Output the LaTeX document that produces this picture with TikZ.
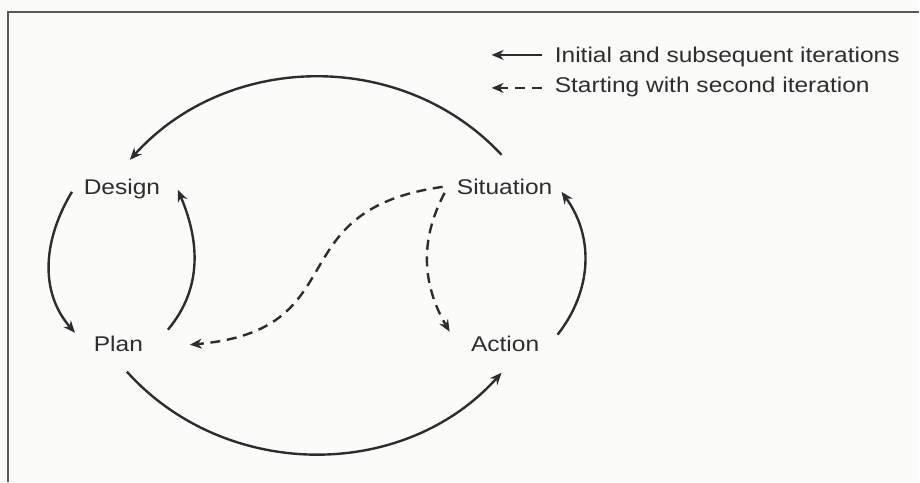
\documentclass[tikz,border=0pt]{standalone}
\usepackage{fontspec}
\setmainfont{Liberation Sans}
\usetikzlibrary{arrows.meta}
\definecolor{ink}{RGB}{45,45,45}
\definecolor{paper}{RGB}{251,252,249}
\newcommand{\wide}[1]{\scalebox{1.15}[1]{#1}}

\begin{document}
\begin{tikzpicture}[x=0.75pt, y=0.75pt,
    lbl/.style={font=\fontsize{16}{19}\selectfont, text=ink, inner sep=0pt, anchor=base},
    flow/.style={draw=ink, line width=1.8pt, -{Stealth[length=9pt,width=7.5pt]}},
    later/.style={flow, dash pattern=on 7.5pt off 5pt}]

    % Background and frame
    \fill[paper] (0,0) rectangle (920,482);
    \draw[gray!70!black, line width=1.1pt] (8,0) -- (8,470) -- (920,470);

    % Steps of the cycle
    \node[lbl] (design) at (122,287) {\wide{Design}};
    \node[lbl] (sit) at (505,287) {\wide{Situation}};
    \node[lbl] (plan) at (118.5,130) {\wide{Plan}};
    \node[lbl] (action) at (505.5,130) {\wide{Action}};

    % Initial and subsequent iterations
    \draw[flow] ([shift={(-3,40)}]sit.base) to[out=133, in=48] ([shift={(8,35)}]design.base);
    \draw[flow] ([shift={(-50,3)}]design.base) to[out=239, in=131] ([shift={(-43.5,19)}]plan.base);
    \draw[flow] ([shift={(49.5,22)}]plan.base) to[out=50, in=-67] ([shift={(56,5)}]design.base);
    \draw[flow] ([shift={(8.5,-20)}]plan.base) to[out=-48, in=228] ([shift={(-3.5,-21)}]action.base);
    \draw[flow] ([shift={(52.5,17)}]action.base) to[out=52, in=-54] ([shift={(57,3)}]sit.base);

    % Starting with second iteration
    \draw[later] ([shift={(-62,8)}]sit.base) to[out=188, in=5, looseness=1.45] ([shift={(71.5,7)}]plan.base);
    \draw[later] ([shift={(-60,2)}]sit.base) to[out=242, in=120] ([shift={(-55.5,20)}]action.base);

    % Legend
    \node[lbl, anchor=base west] (leg1) at (555,419) {\wide{Initial and subsequent iterations}};
    \node[lbl, anchor=base west] (leg2) at (555,389) {\wide{Starting with second iteration}};
    \draw[flow] ([shift={(-13,8)}]leg1.base west) -- ++(-50,0);
    \draw[later] ([shift={(-13,5)}]leg2.base west) -- ++(-50,0);

\end{tikzpicture}
\end{document}
